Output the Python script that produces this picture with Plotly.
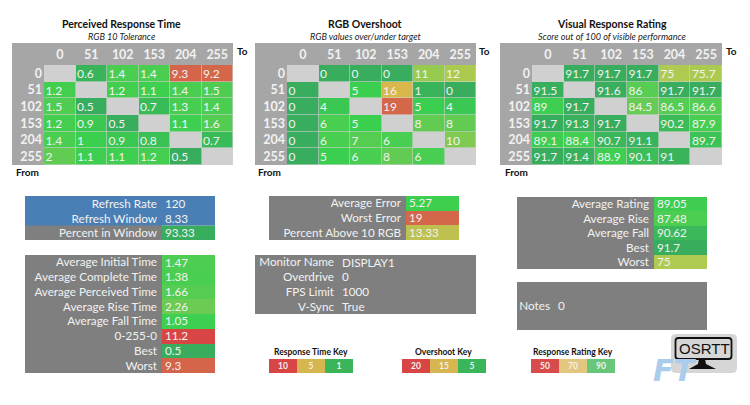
"""Monitor response time report: three transition grids plus summary panels."""
import plotly.graph_objects as go

LEVELS = ['0', '51', '102', '153', '204', '255']

PERCEIVED = [
    [None, 0.6, 1.4, 1.4, 9.3, 9.2],
    [1.2, None, 1.2, 1.1, 1.4, 1.5],
    [1.5, 0.5, None, 0.7, 1.3, 1.4],
    [1.2, 0.9, 0.5, None, 1.1, 1.6],
    [1.4, 1, 0.9, 0.8, None, 0.7],
    [2, 1.1, 1.1, 1.2, 0.5, None],
]
OVERSHOOT = [
    [None, 0, 0, 0, 11, 12],
    [0, None, 5, 16, 1, 0],
    [0, 4, None, 19, 5, 4],
    [0, 6, 5, None, 8, 8],
    [0, 6, 7, 6, None, 10],
    [0, 5, 6, 8, 6, None],
]
RATING = [
    [None, 91.7, 91.7, 91.7, 75, 75.7],
    [91.5, None, 91.6, 86, 91.7, 91.7],
    [89, 91.7, None, 84.5, 86.5, 86.6],
    [91.7, 91.3, 91.7, None, 90.2, 87.9],
    [89.1, 88.4, 90.7, 91.1, None, 89.7],
    [91.7, 91.4, 88.9, 90.1, 91, None],
]

REFRESH_LABELS = ['Refresh Rate', 'Refresh Window']
REFRESH_VALUES = [120, 8.33]
WINDOW_LABELS = ['Percent in Window']
WINDOW_VALUES = [93.33]
TIME_LABELS = ['Average Initial Time', 'Average Complete Time', 'Average Perceived Time',
               'Average Rise Time', 'Average Fall Time', '0-255-0', 'Best', 'Worst']
TIME_VALUES = [1.47, 1.38, 1.66, 2.26, 1.05, 11.2, 0.5, 9.3]
ERROR_LABELS = ['Average Error', 'Worst Error', 'Percent Above 10 RGB']
ERROR_VALUES = [5.27, 19, 13.33]
MONITOR_LABELS = ['Monitor Name', 'Overdrive', 'FPS Limit', 'V-Sync']
MONITOR_VALUES = ['DISPLAY1', '0', '1000', 'True']
SCORE_LABELS = ['Average Rating', 'Average Rise', 'Average Fall', 'Best', 'Worst']
SCORE_VALUES = [89.05, 87.48, 90.62, 91.7, 75]
NOTES_LABELS = ['Notes']
NOTES_VALUES = ['0']
TIME_KEY = [10, 5, 1]
OVERSHOOT_KEY = [20, 15, 5]
RATING_KEY = [50, 70, 90]

W, H = 750, 405
GREY = '#7f7f7f'
HEADER = '#a6a6a6'
DIAGONAL = '#d0d0d0'
BLUE = '#4a7fb5'
CELL_TEXT = '#f2f2f2'
FONT = 'Lato'

TIME_STOPS = [(0.5, '#38ad5e'), (1, '#3bcf4f'), (1.6, '#52cd52'), (2.3, '#6ccb52'),
              (5, '#d5b650'), (9.3, '#d4644a'), (11.2, '#d84545')]
OVER_STOPS = [(0, '#38ad5e'), (5, '#3bcf4f'), (8, '#62cc52'), (10, '#7fcb52'), (12, '#acca4e'),
              (15, '#d5b650'), (16, '#d8b74b'), (19, '#d4664a'), (20, '#d84545')]
RATE_STOPS = [(50, '#d84545'), (70, '#d5b650'), (75, '#afca50'), (84.5, '#66cc55'),
              (88.9, '#3ecf50'), (90.2, '#3bbc58'), (91.7, '#38ad5e')]
TIME_KEY_STOPS = [(1, '#3ab55a'), (5, '#d5b650'), (10, '#d84545')]
OVER_KEY_STOPS = [(5, '#3ab55a'), (15, '#d5b650'), (20, '#d84545')]
RATE_KEY_STOPS = [(50, '#d84b4b'), (70, '#e3c680'), (90, '#68c67a')]
FLAT_BLUE = [(0, BLUE), (1, BLUE)]
FLAT_GREY = [(0, GREY), (1, GREY)]

fig = go.Figure()
shapes = []
notes = []
axis_count = 0


def scale_of(stops):
    """Turn (value, colour) stops into a plotly colorscale plus its range."""
    low, high = stops[0][0], stops[-1][0]
    return [[(v - low) / (high - low), c] for v, c in stops], low, high


def next_axes(x0, x1, y0, y1):
    """Make a new axis pair covering the given pixel box, return the trace refs."""
    global axis_count
    axis_count += 1
    n = '' if axis_count == 1 else str(axis_count)
    common = dict(showgrid=False, zeroline=False, ticks='', ticklen=0, showline=False, fixedrange=True)
    fig.layout[f'xaxis{n}'] = dict(domain=[x0 / W, x1 / W], anchor=f'y{n}', **common)
    fig.layout[f'yaxis{n}'] = dict(domain=[1 - y1 / H, 1 - y0 / H], anchor=f'x{n}', **common)
    return f'x{n}', f'y{n}', fig.layout[f'xaxis{n}'], fig.layout[f'yaxis{n}']


def box(x0, x1, y0, y1, colour):
    shapes.append(dict(type='rect', xref='paper', yref='paper', x0=x0 / W, x1=x1 / W,
                       y0=1 - y1 / H, y1=1 - y0 / H, fillcolor=colour, line_width=0, layer='below'))


def label(x, y, text, size, colour='#111111', anchor='center', family=FONT):
    notes.append(dict(xref='paper', yref='paper', x=x / W, y=1 - y / H, text=text, showarrow=False,
                      xanchor=anchor, yanchor='middle', font=dict(family=family, size=size, color=colour)))


def grid(values, stops, x0, x1, y0, y1, head_w, head_h, title, sub, title_x, to_x, from_x):
    """One 6x6 transition grid with grey header band."""
    box(x0, x1, y0, y0 + head_h, HEADER)
    box(x0, x0 + head_w, y0, y1, HEADER)
    xr, yr, xa, ya = next_axes(x0 + head_w, x1, y0 + head_h, y1)
    cs, low, high = scale_of(stops)
    fig.add_trace(go.Heatmap(z=values, x=list(range(6)), y=list(range(6)), colorscale=cs, zmin=low, zmax=high,
                             showscale=False, xgap=0.6, ygap=0.6, hoverinfo='skip', xaxis=xr, yaxis=yr))
    xs, ys, texts = [], [], []
    for r, row in enumerate(values):
        for c, v in enumerate(row):
            if v is not None:
                xs.append(c - 0.45)
                ys.append(r + 0.09)
                texts.append(str(v))
    fig.add_trace(go.Scatter(x=xs, y=ys, text=texts, mode='text', textposition='middle right',
                             textfont=dict(family=FONT, size=12, color=CELL_TEXT),
                             hoverinfo='skip', xaxis=xr, yaxis=yr))
    tick = dict(family=FONT, size=12.5, color=CELL_TEXT)
    xa.update(range=[-0.5, 5.5], side='top', tickvals=list(range(6)), ticktext=[f'<b>{s}</b>' for s in LEVELS],
              tickfont=tick, ticklabelstandoff=3)
    ya.update(range=[5.5, -0.5], tickvals=list(range(6)), ticktext=[f'<b>{s}</b>' for s in LEVELS],
              tickfont=tick, ticklabelstandoff=1)
    label(title_x, 24, f'<b>{title}</b>', 10.5)
    label(title_x, 36, f'<i>{sub}</i>', 9.1, '#222222')
    label(to_x, 51, '<b>To</b>', 10, anchor='left')
    label(from_x, 172, '<b>From</b>', 10, anchor='left')


def panel(labels, values, stops, x0, x1, split, y0, y1, colour=GREY):
    """Grey block with right-aligned labels and a coloured value column."""
    box(x0, x1, y0, y1, colour)
    xr, yr, xa, ya = next_axes(split, x1, y0, y1)
    rows = list(range(len(labels)))
    numeric = [v if not isinstance(v, str) else 0 for v in values]
    cs, low, high = scale_of(stops)
    fig.add_trace(go.Heatmap(z=[[v] for v in numeric], x=[0], y=rows, colorscale=cs, zmin=low, zmax=high,
                             showscale=False, hoverinfo='skip', xaxis=xr, yaxis=yr))
    pad = 3 / (x1 - split)
    drop = 1.2 * len(rows) / (y1 - y0)
    fig.add_trace(go.Scatter(x=[pad - 0.5] * len(rows), y=[r + drop for r in rows], text=[str(v) for v in values],
                             mode='text', textposition='middle right',
                             textfont=dict(family=FONT, size=11.7, color=CELL_TEXT),
                             hoverinfo='skip', xaxis=xr, yaxis=yr))
    xa.update(range=[-0.5, 0.5], showticklabels=False)
    ya.update(range=[len(rows) - 0.5, -0.5], tickvals=rows, ticktext=labels, ticklabelstandoff=4,
              tickfont=dict(family=FONT, size=11.7, color=CELL_TEXT))


def key(values, stops, x0, x1, y0, y1, title, title_x):
    """Small three-cell colour key."""
    xr, yr, xa, ya = next_axes(x0, x1, y0, y1)
    cs, low, high = scale_of(stops)
    fig.add_trace(go.Heatmap(z=[values], x=list(range(3)), y=[0], colorscale=cs, zmin=low, zmax=high,
                             text=[[f'<b>{v}</b>' for v in values]], texttemplate='%{text}',
                             textfont=dict(family=FONT, size=8.5, color=CELL_TEXT),
                             showscale=False, hoverinfo='skip', xaxis=xr, yaxis=yr))
    xa.update(range=[-0.5, 2.5], showticklabels=False)
    ya.update(range=[-0.5, 0.5], showticklabels=False)
    label(title_x, y0 - 7, f'<b>{title}</b>', 8.5)


grid(PERCEIVED, TIME_STOPS, 12, 233, 43, 165, 32, 22, 'Perceived Response Time', 'RGB 10 Tolerance', 122, 235, 14)
grid(OVERSHOOT, OVER_STOPS, 255, 476, 43, 165, 32, 22, 'RGB Overshoot', 'RGB values over/under target', 365, 477, 256)
grid(RATING, RATE_STOPS, 500, 722, 43, 165, 32, 22, 'Visual Response Rating', 'Score out of 100 of visible performance',
     612, 724, 503)

panel(REFRESH_LABELS, REFRESH_VALUES, FLAT_BLUE, 25, 215, 162, 196, 226, BLUE)
panel(WINDOW_LABELS, WINDOW_VALUES, RATE_STOPS, 25, 215, 162, 225.5, 240)
panel(TIME_LABELS, TIME_VALUES, TIME_STOPS, 25, 215, 162, 255, 373)
panel(ERROR_LABELS, ERROR_VALUES, OVER_STOPS, 269, 459, 406, 196, 240)
panel(MONITOR_LABELS, MONITOR_VALUES, FLAT_GREY, 255, 476, 339, 255, 314)
panel(SCORE_LABELS, SCORE_VALUES, RATE_STOPS, 517, 707, 654, 197, 269)
panel(NOTES_LABELS, NOTES_VALUES, FLAT_GREY, 517, 707, 555, 282, 330)

key(TIME_KEY, TIME_KEY_STOPS, 269, 353, 359, 373, 'Response Time Key', 311)
key(OVERSHOOT_KEY, OVER_KEY_STOPS, 402, 486, 359, 373, 'Overshoot Key', 443)
key(RATING_KEY, RATE_KEY_STOPS, 531, 615, 359, 373, 'Response Rating Key', 573)


def px(x, y):
    return f'{x / W} {1 - y / H}'


def rounded(x0, x1, y0, y1, r):
    """Rounded rectangle path in page pixels, for the logo."""
    return (f'M {px(x0 + r, y0)} L {px(x1 - r, y0)} Q {px(x1, y0)} {px(x1, y0 + r)} L {px(x1, y1 - r)} '
            f'Q {px(x1, y1)} {px(x1 - r, y1)} L {px(x0 + r, y1)} Q {px(x0, y1)} {px(x0, y1 - r)} '
            f'L {px(x0, y0 + r)} Q {px(x0, y0)} {px(x0 + r, y0)} Z')


# OSRTT logo and the faint site mark over it
shapes.append(dict(type='path', xref='paper', yref='paper', path=rounded(671, 737, 334, 373, 5),
                   fillcolor='#d6d6d6', line_width=0, layer='below'))
shapes.append(dict(type='path', xref='paper', yref='paper', path=rounded(675.5, 731.5, 338, 359, 3),
                   fillcolor='rgba(0,0,0,0)', line=dict(color='#111111', width=1.8)))
shapes.append(dict(type='path', xref='paper', yref='paper',
                   path=f'M {px(699, 359)} L {px(705, 359)} L {px(706, 364)} L {px(716, 369)} '
                        f'L {px(689, 369)} L {px(698, 364)} Z',
                   fillcolor='#111111', line_width=0))
label(704, 348, 'OSRTT', 15, '#111111', family='Liberation Sans')
label(674, 370, '<b><i>FT</i></b>', 30, '#a9cdea', family='DejaVu Sans')

fig.update_layout(width=W, height=H, margin=dict(l=0, r=0, t=0, b=0), paper_bgcolor='white',
                  plot_bgcolor=DIAGONAL, showlegend=False, shapes=shapes, annotations=notes,
                  font=dict(family=FONT))

fig.write_html("out.html", config={'displayModeBar': False},
               post_script="document.body.style.margin='0';")
